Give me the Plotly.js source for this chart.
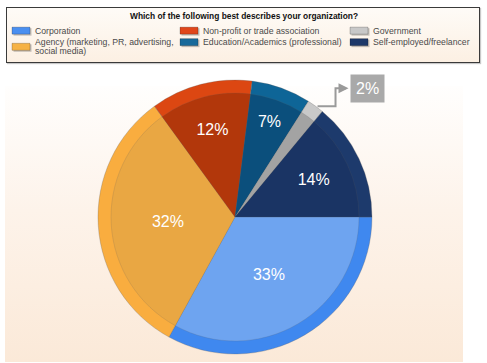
<!DOCTYPE html>
<html>
<head>
<meta charset="utf-8">
<script src="https://cdn.plot.ly/plotly-3.0.1.min.js"></script>
<style>
  html, body { margin:0; padding:0; background:#ffffff; }
  #wrap { position:relative; width:487px; height:363px; overflow:hidden; }
  #panel { position:absolute; left:5px; top:86px; width:458px; height:276px;
           background:linear-gradient(to bottom, #fffefd 0%, #fdf3ea 45%, #fbe9d8 100%); }
  #legbox { position:absolute; left:6px; top:7px; width:472px; height:54px;
            border:1px solid #3a3a3a; box-shadow:1px 1px 1px #c8c8c8;
            background:linear-gradient(to bottom, #fefbf7 0%, #fcf0e3 100%); }
  #chart { position:absolute; left:0; top:0; width:487px; height:363px; }
</style>
</head>
<body>
<div id="wrap">
  <div id="panel"></div>
  <div id="legbox"></div>
  <div id="chart"></div>
</div>
<script>
// ---- data ----
const legendTitle = 'Which of the following best describes your organization?';
const categories = [
  'Corporation',
  'Agency (marketing, PR, advertising,<br>social media)',
  'Non-profit or trade association',
  'Education/Academics (professional)',
  'Government',
  'Self-employed/freelancer'
];
const values = [33, 32, 12, 7, 2, 14];
const rimColors  = ['#3f88ef', '#f9ad3f', '#dc4712', '#0e6597', '#c9c9c9', '#1d3a6c'];
const fillColors = ['#6ea4f0', '#e9a743', '#b2370b', '#0b4f7c', '#a3a3a3', '#1a3464'];
const swatchColors = ['#4a8ff0', '#f6b244', '#e0461a', '#17699a', '#c8c8c8', '#1d3869'];

// ---- geometry helpers (pixels -> paper) ----
const W = 487, H = 363;
const px = x => x / W;
const py = y => 1 - y / H;
const cx = 235, cy = 217, R = 137, Rin = 124;

const total = values.reduce((a, b) => a + b, 0);
const labelsText = values.map(v => v >= 5 ? v + '%' : '');

const outer = {
  type: 'pie', values: values, labels: categories, sort: false,
  direction: 'clockwise', rotation: 90,
  marker: { colors: rimColors, line: { color: 'rgba(90,90,90,0.45)', width: 0.6 } },
  textinfo: 'none', hoverinfo: 'skip', showlegend: false,
  domain: { x: [px(cx - R), px(cx + R)], y: [py(cy + R), py(cy - R)] }
};
const inner = {
  type: 'pie', values: values, labels: categories, sort: false,
  direction: 'clockwise', rotation: 90,
  marker: { colors: fillColors, line: { color: 'rgba(90,90,90,0.35)', width: 0.5 } },
  text: labelsText, textinfo: 'text', textposition: 'inside',
  insidetextorientation: 'horizontal',
  textfont: { family: 'Liberation Sans, Arial, sans-serif', size: 16, color: '#ffffff' },
  hoverinfo: 'label+percent', showlegend: false,
  domain: { x: [px(cx - Rin), px(cx + Rin)], y: [py(cy + Rin), py(cy - Rin)] }
};

const shapes = [];
const annotations = [];

// legend title
annotations.push({
  xref: 'paper', yref: 'paper', x: px(244), y: py(16), xanchor: 'center', yanchor: 'middle',
  text: '<b>' + legendTitle + '</b>', showarrow: false,
  font: { family: 'Liberation Sans, Arial, sans-serif', size: 8.4, color: '#111111' }
});

// legend entries (3 columns, column-major)
const colX = [12, 180, 350];
const rowTop = [26, 37.5];
const lineH = 9.3;
categories.forEach((name, i) => {
  const col = Math.floor(i / 2), row = i % 2;
  const lines = name.split('<br>');
  const top = rowTop[row];
  const mid = top + lines.length * lineH / 2;
  const x0 = colX[col];
  // shadow
  shapes.push({ type: 'rect', xref: 'paper', yref: 'paper',
    x0: px(x0 + 1.5), x1: px(x0 + 19.5), y0: py(mid - 2.5), y1: py(mid + 5),
    fillcolor: 'rgba(0,0,0,0.22)', line: { width: 0 } });
  shapes.push({ type: 'rect', xref: 'paper', yref: 'paper',
    x0: px(x0), x1: px(x0 + 18), y0: py(mid - 3.5), y1: py(mid + 3.5),
    fillcolor: swatchColors[i], line: { width: 0.6, color: 'rgba(0,0,0,0.35)' } });
  lines.forEach((ln, k) => {
    annotations.push({
      xref: 'paper', yref: 'paper', x: px(x0 + 21), y: py(top + lineH * (k + 0.5)),
      xanchor: 'left', yanchor: 'middle', text: ln, showarrow: false,
      font: { family: 'Liberation Sans, Arial, sans-serif', size: 8.7, color: '#4a4a4a' }
    });
  });
});

// outside callout for small slices
let cum = 0;
values.forEach((v, i) => {
  const midFrac = (cum + v / 2) / total;
  cum += v;
  if (v >= 5) return;
  const ang = midFrac * 2 * Math.PI;           // clockwise from 3 o'clock
  const ex = cx + R * Math.cos(ang), ey = cy + R * Math.sin(ang);
  const elbowX = ex + 20, topY = ey - 18, headX = elbowX + 13;
  shapes.push({ type: 'path', xref: 'paper', yref: 'paper',
    path: `M ${px(ex + 2)} ${py(ey)} L ${px(elbowX)} ${py(ey)} L ${px(elbowX)} ${py(topY)} L ${px(headX - 3)} ${py(topY)}`,
    line: { color: '#9a9a9a', width: 2 } });
  annotations.push({ xref: 'paper', yref: 'paper', x: px(headX), y: py(topY),
    ax: -6, ay: 0, text: '', showarrow: true, arrowhead: 2, arrowsize: 1, arrowwidth: 2,
    arrowcolor: '#9a9a9a', standoff: 0 });
  annotations.push({ xref: 'paper', yref: 'paper', x: px(headX + 1), y: py(topY),
    xanchor: 'left', yanchor: 'middle', text: v + '%', showarrow: false,
    bgcolor: '#a9a9a9', borderpad: 5,
    font: { family: 'Liberation Sans, Arial, sans-serif', size: 16, color: '#ffffff' } });
});

const layout = {
  width: W, height: H,
  margin: { l: 0, r: 0, t: 0, b: 0 },
  paper_bgcolor: 'rgba(0,0,0,0)', plot_bgcolor: 'rgba(0,0,0,0)',
  showlegend: false,
  shapes: shapes, annotations: annotations
};

Plotly.newPlot('chart', [outer, inner], layout, { displayModeBar: false, staticPlot: true });
</script>
</body>
</html>
